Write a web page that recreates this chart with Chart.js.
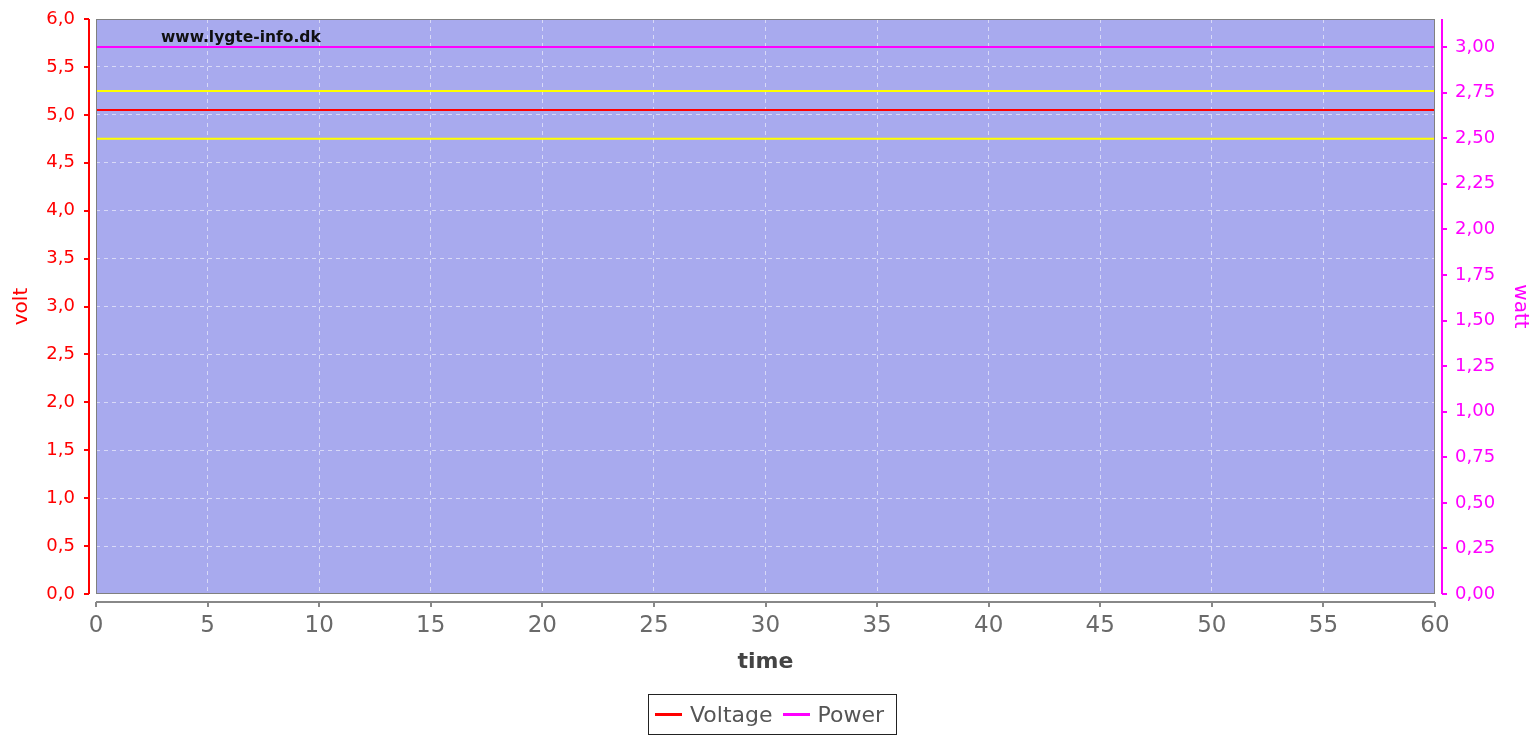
<!DOCTYPE html>
<html>
<head>
<meta charset="utf-8">
<script src="https://cdn.jsdelivr.net/npm/chart.js@4.4.1/dist/chart.umd.min.js"></script>
<style>
  body { margin: 0; background: #fff; }
  #wrap { position: relative; width: 1535px; height: 735px; }
  #legend {
    position: absolute; left: 648px; top: 694px; width: 249px; height: 41px;
    border: 1px solid #222; box-sizing: border-box;
    font-family: "DejaVu Sans", sans-serif; font-size: 22px; color: #555;
    display: flex; align-items: center; padding-left: 6px;
  }
  #legend span.sw { display: inline-block; width: 27px; height: 3px; margin-right: 8px; }
  #legend span.item { display: inline-flex; align-items: center; margin-right: 10px; }
</style>
</head>
<body>
<div id="wrap">
  <canvas id="myChart" width="1535" height="735"></canvas>
  <div id="legend">
    <span class="item"><span class="sw" style="background:#ff0000"></span>Voltage</span>
    <span class="item"><span class="sw" style="background:#ff00ff"></span>Power</span>
  </div>
</div>
<script>
// data
const time = [0, 5, 10, 15, 20, 25, 30, 35, 40, 45, 50, 55, 60];
const voltage = [5.05, 5.05, 5.05, 5.05, 5.05, 5.05, 5.05, 5.05, 5.05, 5.05, 5.05, 5.05, 5.05];
const power = [3.0, 3.0, 3.0, 3.0, 3.0, 3.0, 3.0, 3.0, 3.0, 3.0, 3.0, 3.0, 3.0];
const upperLimit = [5.25, 5.25, 5.25, 5.25, 5.25, 5.25, 5.25, 5.25, 5.25, 5.25, 5.25, 5.25, 5.25];
const lowerLimit = [4.75, 4.75, 4.75, 4.75, 4.75, 4.75, 4.75, 4.75, 4.75, 4.75, 4.75, 4.75, 4.75];

const font = "'DejaVu Sans', sans-serif";

function toPoints(values) {
  return time.map((t, i) => ({ x: t, y: values[i] }));
}

// plot background, frame, watermark and offset axis lines
const plotDecor = {
  id: "plotDecor",
  beforeDraw(chart) {
    const { ctx, chartArea: a } = chart;
    ctx.save();
    ctx.fillStyle = "#a8aaee";
    ctx.fillRect(a.left, a.top, a.right - a.left, a.bottom - a.top);
    ctx.restore();
  },
  afterDatasetsDraw(chart) {
    const { ctx, chartArea: a, scales } = chart;
    ctx.save();
    ctx.strokeStyle = "#808080";
    ctx.lineWidth = 1;
    ctx.strokeRect(a.left + 0.5, a.top + 0.5, a.right - a.left - 1, a.bottom - a.top - 1);

    ctx.fillStyle = "#111";
    ctx.font = "bold 15.5px " + font;
    ctx.textBaseline = "alphabetic";
    ctx.fillText("www.lygte-info.dk", 161, 42);

    // left axis
    const yl = scales.y;
    ctx.strokeStyle = "#ff0000";
    ctx.lineWidth = 2;
    ctx.beginPath();
    ctx.moveTo(89, a.top);
    ctx.lineTo(89, a.bottom);
    yl.ticks.forEach((t) => {
      const p = Math.round(yl.getPixelForValue(t.value));
      ctx.moveTo(89, p);
      ctx.lineTo(84, p);
    });
    ctx.stroke();

    // right axis
    const yr = scales.y1;
    ctx.strokeStyle = "#ff00ff";
    ctx.beginPath();
    ctx.moveTo(1442, a.top);
    ctx.lineTo(1442, a.bottom);
    yr.ticks.forEach((t) => {
      const p = Math.round(yr.getPixelForValue(t.value));
      ctx.moveTo(1442, p);
      ctx.lineTo(1447, p);
    });
    ctx.stroke();

    // bottom axis
    const xs = scales.x;
    ctx.strokeStyle = "#888";
    ctx.beginPath();
    ctx.moveTo(a.left, 602);
    ctx.lineTo(a.right, 602);
    xs.ticks.forEach((t) => {
      const p = Math.round(xs.getPixelForValue(t.value));
      ctx.moveTo(p, 602);
      ctx.lineTo(p, 607);
    });
    ctx.stroke();
    ctx.restore();
  },
};

const gridColor = "rgba(255,255,255,0.55)";

function fixWidth(w) {
  return (s) => {
    s.width = w;
    s.paddingTop = 0;
    s.paddingBottom = 0;
  };
}

const config = {
  type: "line",
  data: {
    datasets: [
      { label: "Voltage", data: toPoints(voltage), borderColor: "#ff0000", borderWidth: 2, yAxisID: "y" },
      { label: "Power", data: toPoints(power), borderColor: "#ff00ff", borderWidth: 2, yAxisID: "y1" },
      { label: "max", data: toPoints(upperLimit), borderColor: "#ffff00", borderWidth: 2, yAxisID: "y" },
      { label: "min", data: toPoints(lowerLimit), borderColor: "#ffff00", borderWidth: 2, yAxisID: "y" },
    ],
  },
  options: {
    responsive: false,
    animation: false,
    elements: { point: { radius: 0 }, line: { tension: 0 } },
    layout: { padding: { top: 19, left: 0, right: 0, bottom: 0 } },
    plugins: { legend: { display: false }, tooltip: { enabled: false } },
    scales: {
      x: {
        type: "linear",
        min: 0,
        max: 60,
        afterFit: (s) => { s.height = 141; },
        border: { display: false, dash: [4, 4] },
        grid: { color: gridColor, drawTicks: false },
        ticks: { stepSize: 5, padding: 18, color: "#6a6a6a", font: { family: font, size: 23 } },
        title: { display: true, text: "time", color: "#444", font: { family: font, size: 22, weight: "bold" }, padding: { top: 60, bottom: 60 } },
      },
      y: {
        position: "left",
        min: 0,
        max: 6,
        afterFit: fixWidth(96),
        border: { display: false, dash: [4, 4] },
        grid: { color: gridColor, drawTicks: false },
        ticks: {
          stepSize: 0.5,
          padding: 21,
          color: "#ff0000",
          font: { family: font, size: 18 },
          callback: (v) => v.toFixed(1).replace(".", ","),
        },
        title: { display: true, text: "volt", color: "#ff0000", font: { family: font, size: 20 }, padding: { top: 10, bottom: 10 } },
      },
      y1: {
        position: "right",
        min: 0,
        max: 3.154,
        afterFit: fixWidth(100),
        border: { display: false },
        grid: { drawOnChartArea: false, drawTicks: false },
        ticks: {
          stepSize: 0.25,
          includeBounds: false,
          padding: 20,
          color: "#ff00ff",
          font: { family: font, size: 18 },
          callback: (v) => v.toFixed(2).replace(".", ","),
        },
        title: { display: true, text: "watt", color: "#ff00ff", font: { family: font, size: 20 }, padding: { top: 3, bottom: 3 } },
      },
    },
  },
  plugins: [plotDecor],
};

new Chart(document.getElementById("myChart"), config);
</script>
</body>
</html>
